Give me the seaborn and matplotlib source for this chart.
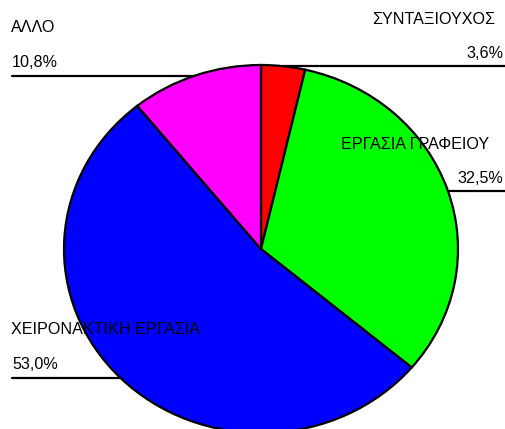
import matplotlib
matplotlib.use('Agg')
import numpy as np
import matplotlib.pyplot as plt
import seaborn as sns

categories = ['ΣΥΝΤΑΞΙΟΥΧΟΣ', 'ΕΡΓΑΣΙΑ ΓΡΑΦΕΙΟΥ', 'ΧΕΙΡΟΝΑΚΤΙΚΗ ΕΡΓΑΣΙΑ', 'ΑΛΛΟ']
shares = [3.6, 32.5, 53.0, 10.8]
colors = ['#ff0000', '#00ff00', '#0000ff', '#ff00ff']

sns.set_theme(style='white')
plt.rcParams['font.family'] = ['Liberation Sans', 'DejaVu Sans']

W, H = 506, 429
cx, cy, rx, ry = 261, 249, 197, 184   # pie centre and radii, pixels from top-left

fig = plt.figure(figsize=(W / 100, H / 100), dpi=100)
ax = fig.add_axes([0, 0, 1, 1])

wedges, _ = ax.pie(shares, colors=colors, startangle=90, counterclock=False,
                   wedgeprops=dict(edgecolor='black', linewidth=1.6))
ax.set_aspect('auto')
ax.set_xlim(-cx / rx, (W - cx) / rx)
ax.set_ylim((cy - H) / ry, cy / ry)
ax.axis('off')

px_x = 1 / rx
px_y = 1 / ry
left_edge = (12 - cx) / rx
right_edge = (W - cx) / rx
name_right = {0: 495, 1: 489}
fs = 11.6

for i, (w, name, v) in enumerate(zip(wedges, categories, shares)):
    ang = np.deg2rad((w.theta1 + w.theta2) / 2)
    x0, y0 = np.cos(ang), np.sin(ang)
    pct = f'{v:.1f}%'.replace('.', ',')
    if x0 >= 0:
        ax.plot([x0, right_edge], [y0, y0], color='black', lw=1.6, zorder=5, clip_on=False)
        ax.text((503 - cx) / rx, y0 + 5 * px_y, pct, ha='right', va='bottom',
                fontsize=fs, color='black', zorder=6)
        ax.text((name_right[i] - cx) / rx, y0 + 39 * px_y, name, ha='right', va='bottom',
                fontsize=fs, color='black', zorder=6)
    else:
        ax.plot([left_edge, x0], [y0, y0], color='black', lw=1.6, zorder=5, clip_on=False)
        ax.text(left_edge, y0 + 6 * px_y, pct, ha='left', va='bottom',
                fontsize=fs, color='black', zorder=6)
        ax.text(left_edge - 1 * px_x, y0 + 41 * px_y, name, ha='left', va='bottom',
                fontsize=fs, color='black', zorder=6)

fig.savefig('out.png', dpi=100, facecolor='white')
